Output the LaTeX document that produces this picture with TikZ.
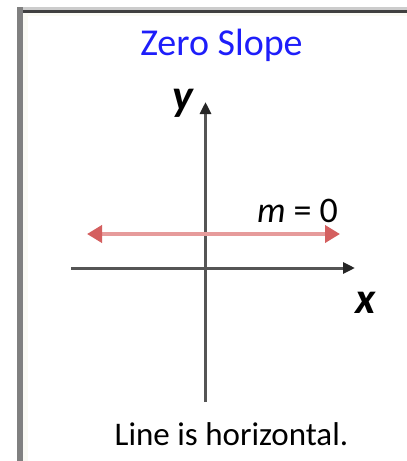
\documentclass[tikz,border=0pt]{standalone}
\usepackage{fontspec}
\setmainfont{Carlito}
\usetikzlibrary{arrows.meta}
\definecolor{titleblue}{RGB}{30,30,250}
\definecolor{slopered}{RGB}{230,155,155}
\definecolor{sloperedtip}{RGB}{212,95,95}
\definecolor{axisgray}{RGB}{85,85,85}
\definecolor{framecream}{RGB}{250,250,244}

\begin{document}
\begin{tikzpicture}[
  x=1pt, y=-1pt, line cap=butt,
  axis/.style={axisgray, line width=3pt, -{Triangle[length=12pt, width=11pt, color=black!85]}},
  zeroline/.style={slopered, line width=4pt,
    {Triangle[length=15pt, width=17pt, color=sloperedtip]}-{Triangle[length=15pt, width=17pt, color=sloperedtip]}},
  lbl/.style={inner sep=0pt, anchor=base},
]

\fill[white] (0,0) rectangle (407,461);
\path[use as bounding box] (0,0) rectangle (407,461);

% Frame
\fill[framecream] (22.5,12.5) rectangle (407,15.5);
\fill[framecream] (22.5,12.5) rectangle (28,461);
\fill[gray!40] (17,7) rectangle (407,9.5);
\fill[black!75] (17,9.5) rectangle (407,12.5);
\fill[black!50] (17,7) rectangle (22.5,461);

% Title
\node[lbl, text=titleblue, font=\fontsize{38}{40}\selectfont] (title) at (221.5,55) {Zero Slope};

% Axes
\coordinate (xl) at (71,268);
\coordinate (xr) at (355,268);
\coordinate (yb) at (205.5,402);
\coordinate (yt) at (205.5,102);
\draw[axis] (xl) -- (xr);
\draw[axis] (yb) -- (yt);
\node[lbl, font=\fontsize{44}{46}\selectfont\bfseries\itshape] (ylab) at (183,110) {y};
\node[lbl, font=\fontsize{44}{46}\selectfont\bfseries\itshape] (xlab) at (366,313) {x};

% Horizontal line
\coordinate (ml) at (87,234);
\coordinate (mr) at (340,234);
\draw[zeroline] (ml) -- (mr);
\node[lbl, font=\fontsize{36}{38}\selectfont] (slope) at (297.5,222) {\textit{m} = 0};

% Caption
\node[lbl, font=\fontsize{33}{35}\selectfont] (caption) at (231.5,445) {Line is horizontal.};

\end{tikzpicture}
\end{document}
